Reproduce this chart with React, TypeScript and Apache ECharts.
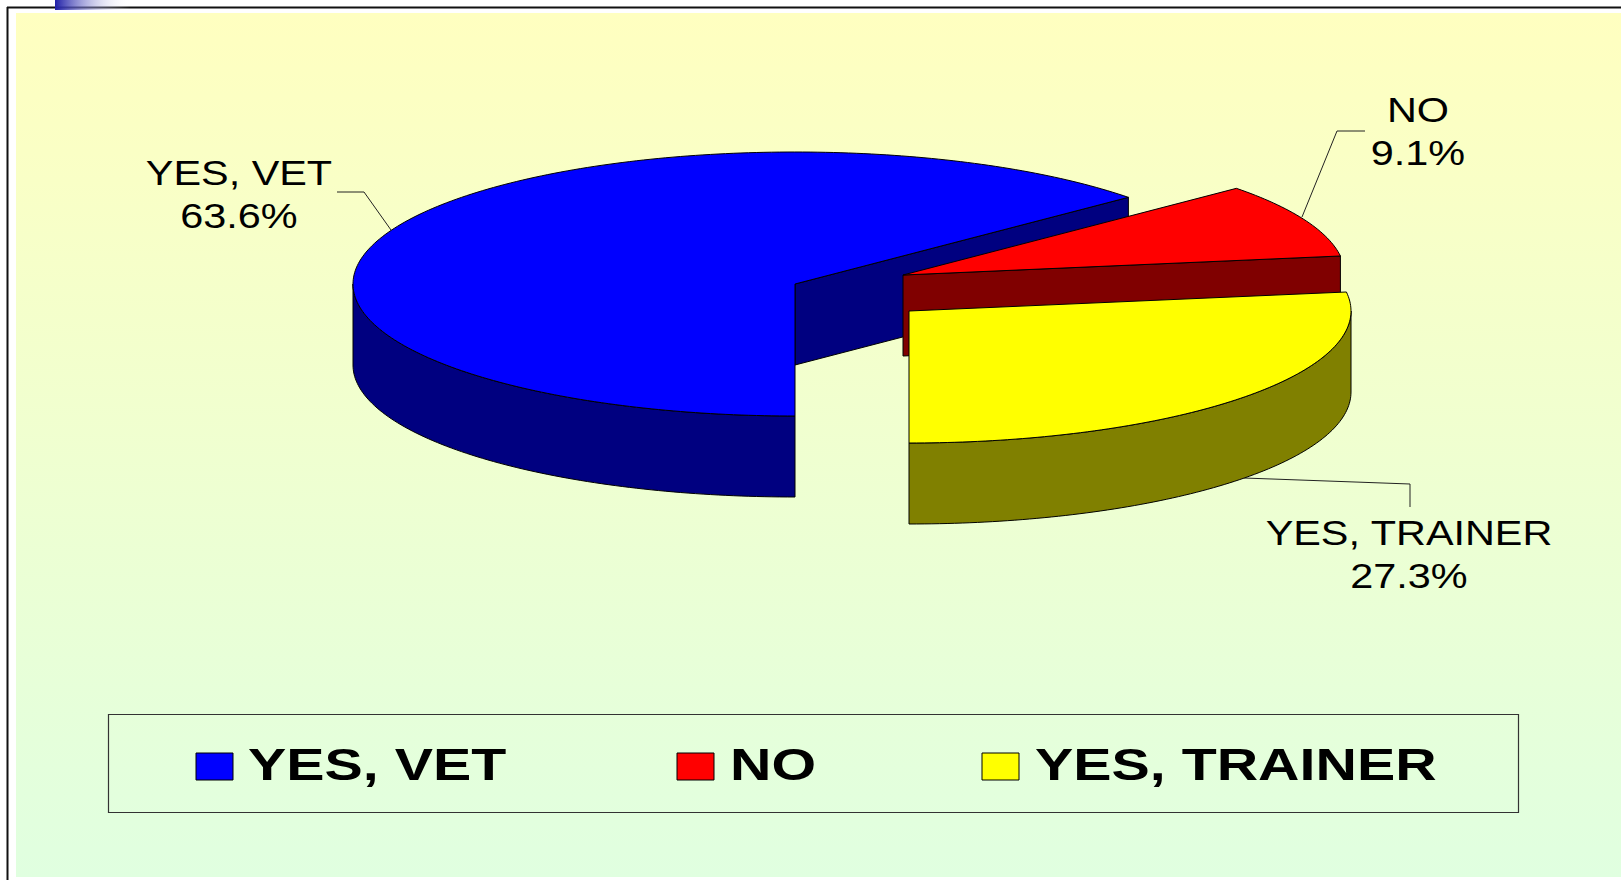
import React, { useEffect, useRef } from "react";
import * as echarts from "echarts";

const categories = ["YES, VET", "NO", "YES, TRAINER"];
const values = [63.6, 9.1, 27.3];
const topColors = ["#0000FF", "#FF0000", "#FFFF00"];
const sideColors = ["#000080", "#800000", "#808000"];

const START_ANGLE = 180;
const RX = 442;
const RY = 132;
const DEPTH = 81;
const centers = [
  [795, 284],
  [903, 275],
  [909, 311],
];

const labelAnchors = [
  { x: 239, y: 194, sx: 1.15 },
  { x: 1418, y: 131, sx: 1.15 },
  { x: 1409, y: 554, sx: 1.15 },
];
const leaders = [
  [[391, 230], [364, 192], [337, 192]],
  [[1302, 217], [1337, 131], [1365, 131]],
  [[1244, 478], [1410, 484], [1410, 507]],
];
const legendSwatchX = [196, 677, 982];
const legendTextX = [248, 730, 1035];

const FONT = "'Liberation Sans', Arial, sans-serif";

function pt(c: number[], a: number, dy = 0): number[] {
  const r = (a * Math.PI) / 180;
  return [c[0] + RX * Math.sin(r), c[1] - RY * Math.cos(r) + dy];
}
function arc(c: number[], a0: number, a1: number, dy = 0): number[][] {
  const out: number[][] = [];
  const n = Math.max(2, Math.ceil(Math.abs(a1 - a0)));
  for (let i = 0; i <= n; i++) out.push(pt(c, a0 + ((a1 - a0) * i) / n, dy));
  return out;
}

const total = values.reduce((s, v) => s + v, 0);

function renderSlice(params: any, api: any) {
  const i = params.dataIndex;
  let a0 = START_ANGLE;
  for (let k = 0; k < i; k++) a0 += (values[k] / total) * 360;
  a0 = a0 % 360;
  const a1 = a0 + (api.value(0) / total) * 360;
  const c = centers[i];
  const side = { fill: sideColors[i], stroke: "#000", lineWidth: 1 };
  const children: any[] = [];
  const face = (a: number) => {
    const p = pt(c, a);
    children.push({
      type: "polygon",
      shape: { points: [c, p, [p[0], p[1] + DEPTH], [c[0], c[1] + DEPTH]] },
      style: side,
    });
  };
  const norm = (a: number) => ((a % 360) + 360) % 360;
  if (norm(a1) > 0 && norm(a1) < 180) face(a1);
  if (norm(a0) > 180 && norm(a0) < 360) face(a0);
  const w0 = Math.max(a0, 90);
  const w1 = Math.min(a1, 270);
  if (w1 > w0) {
    const topEdge = arc(c, w0, w1);
    const botEdge = arc(c, w0, w1, DEPTH).reverse();
    children.push({ type: "polygon", shape: { points: topEdge.concat(botEdge) }, style: side });
  }
  children.push({
    type: "polygon",
    shape: { points: [c, ...arc(c, a0, a1)] },
    style: { fill: topColors[i], stroke: "#000", lineWidth: 1 },
  });
  return { type: "group", children };
}

export default function App() {
  const ref = useRef<HTMLDivElement>(null);
  useEffect(() => {
    const chart = echarts.init(ref.current!, null, { renderer: "svg" });
    const elements: any[] = [
      { type: "rect", z: 0, shape: { x: 0, y: 0, width: 1621, height: 880 }, style: { fill: "#fff" } },
      {
        type: "rect",
        z: 0,
        shape: { x: 16, y: 13, width: 1605, height: 864 },
        style: {
          fill: new echarts.graphic.LinearGradient(0, 0, 0, 1, [
            { offset: 0, color: "#FFFFC0" },
            { offset: 1, color: "#E0FFE0" },
          ]),
        },
      },
      { type: "line", z: 1, shape: { x1: 7, y1: 7.5, x2: 1621, y2: 7.5 }, style: { stroke: "#111", lineWidth: 2 } },
      { type: "line", z: 1, shape: { x1: 7.5, y1: 7, x2: 7.5, y2: 880 }, style: { stroke: "#111", lineWidth: 2 } },
      {
        type: "rect",
        z: 2,
        shape: { x: 55, y: 0, width: 75, height: 10 },
        style: {
          fill: new echarts.graphic.LinearGradient(0, 0, 1, 0, [
            { offset: 0, color: "#2020A8" },
            { offset: 1, color: "rgba(255,255,255,0)" },
          ]),
        },
      },
      {
        type: "rect",
        z: 2,
        shape: { x: 108.5, y: 714.5, width: 1410, height: 98 },
        style: { fill: "rgba(0,0,0,0)", stroke: "#333", lineWidth: 1.2 },
      },
    ];
    categories.forEach((name, i) => {
      const pct = ((values[i] / total) * 100).toFixed(1);
      elements.push({
        type: "polyline",
        z: 3,
        shape: { points: leaders[i] },
        style: { fill: "none", stroke: "#222", lineWidth: 1 },
      });
      elements.push({
        type: "text",
        z: 10,
        x: labelAnchors[i].x,
        y: labelAnchors[i].y,
        scaleX: labelAnchors[i].sx,
        style: {
          text: `${name}\n${pct}%`,
          fill: "#000",
          font: `36px ${FONT}`,
          lineHeight: 43,
          textAlign: "center",
          verticalAlign: "middle",
        },
      });
      elements.push({
        type: "rect",
        z: 10,
        shape: { x: legendSwatchX[i], y: 753, width: 37, height: 27 },
        style: { fill: topColors[i], stroke: "#000", lineWidth: 1 },
      });
      elements.push({
        type: "text",
        z: 10,
        x: legendTextX[i],
        y: 764,
        scaleX: 1.275,
        style: {
          text: name,
          fill: "#000",
          font: `bold 45px ${FONT}`,
          textAlign: "left",
          verticalAlign: "middle",
        },
      });
    });
    chart.setOption({
      animation: false,
      tooltip: { show: false },
      graphic: { elements },
      series: [
        {
          type: "custom",
          z: 5,
          coordinateSystem: "none",
          renderItem: renderSlice,
          data: values.map((v, i) => ({ name: categories[i], value: [v] })),
          silent: true,
        },
      ],
    });
    return () => chart.dispose();
  }, []);
  return <div ref={ref} style={{ position: "absolute", left: 0, top: 0, width: 1621, height: 880 }} />;
}
